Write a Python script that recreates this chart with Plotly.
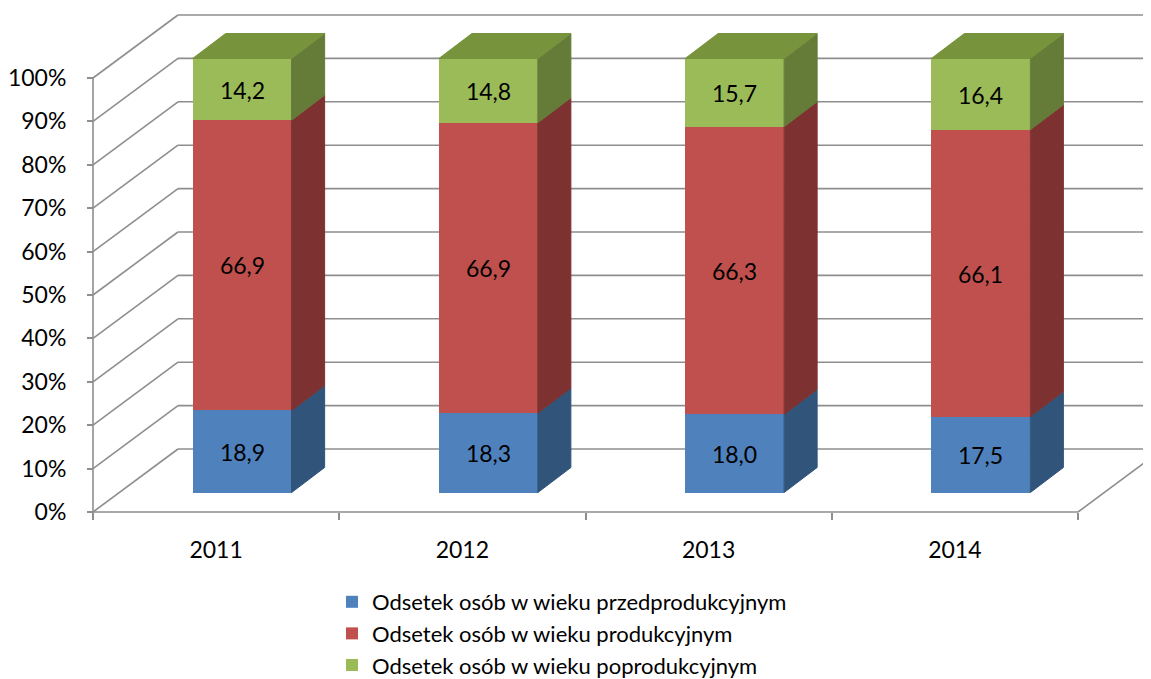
import plotly.graph_objects as go

years = ["2011", "2012", "2013", "2014"]
przed = [18.9, 18.3, 18.0, 17.5]
prod = [66.9, 66.9, 66.3, 66.1]
poprod = [14.2, 14.8, 15.7, 16.4]
names = ["Odsetek osób w wieku przedprodukcyjnym",
         "Odsetek osób w wieku produkcyjnym",
         "Odsetek osób w wieku poprodukcyjnym"]
y_ticks = list(range(0, 101, 10))
y_labels = [f"{v}%" for v in y_ticks]

series = [przed, prod, poprod]
front_col = ["#4F81BD", "#C0504D", "#9BBB59"]
side_col = ["#31547A", "#7D3231", "#657B38"]
top_col = "#77933C"
grid_col = "#8E8E8E"
FONT = "Lato"

# pixel geometry in page coords (page body has an 8px margin)
OFF = 8
PW, PH = 1151, 679
W, H = PW - OFF, PH - OFF
L, T, B = 90, 9, 514       # plot area left / top / bottom (page px)
X0PX, Y0PX = 93, 512       # front corner of the floor
CAT = 246.25               # px per category
PCT = 4.34                 # px per percent

xmin = -0.5 - (X0PX - L) / CAT
xmax = xmin + (PW - L) / CAT
ymin = -(B - Y0PX) / PCT
ymax = ymin + (B - T) / PCT

DX, DY = 85 / CAT, 63 / PCT      # depth of walls / floor
BX, BY = 26 / CAT, 19.5 / PCT    # offset of the bar front
BDX, BDY = 33 / CAT, 25 / PCT    # bar depth
BW = 99 / CAT                    # bar width

fig = go.Figure()

bases = [BY] * len(years)
side_traces = []
for s, vals in enumerate(series):
    xs = [i + BX for i in range(len(years))]
    fig.add_trace(go.Bar(
        x=xs, y=vals, base=list(bases), width=BW, name=names[s],
        marker=dict(color=front_col[s], line=dict(width=0)),
        text=[f"{v:.1f}".replace(".", ",") for v in vals],
        textposition="inside", insidetextanchor="middle", textangle=0,
        textfont=dict(size=23, color="black", family=FONT),
        hoverinfo="skip"))
    for i, v in enumerate(vals):
        xr = xs[i] + BW / 2
        b = bases[i]
        t = b + v
        side_traces.append(go.Scatter(
            x=[xr, xr + BDX, xr + BDX, xr, xr],
            y=[b, b + BDY, t + BDY, t, b],
            fill="toself", fillcolor=side_col[s], mode="lines",
            line=dict(color=side_col[s], width=1),
            showlegend=False, hoverinfo="skip"))
        if s == len(series) - 1:
            xl = xs[i] - BW / 2
            side_traces.append(go.Scatter(
                x=[xl, xl + BDX, xr + BDX, xr, xl],
                y=[t, t + BDY, t + BDY, t, t],
                fill="toself", fillcolor=top_col, mode="lines",
                line=dict(color=top_col, width=1),
                showlegend=False, hoverinfo="skip"))
    bases = [bases[i] + vals[i] for i in range(len(years))]

for tr in side_traces:
    fig.add_trace(tr)

# walls, floor and axis lines
shapes = []
def seg(x0, y0, x1, y1):
    shapes.append(dict(type="line", xref="x", yref="y", x0=x0, y0=y0, x1=x1, y1=y1,
                       line=dict(color=grid_col, width=1.6), layer="below"))

x_front = -0.5
x_end = len(years) - 0.5
for v in y_ticks:
    seg(x_front, v, x_front + DX, v + DY)
    seg(x_front + DX, v + DY, xmax + 1, v + DY)
seg(x_front, 0, x_end, 0)
seg(x_end, 0, x_end + DX, DY)
seg(x_front, 0, x_front, 100)

fig.update_layout(
    width=W, height=H,
    margin=dict(l=L - OFF, r=0, t=T - OFF, b=PH - B, autoexpand=False),
    plot_bgcolor="white", paper_bgcolor="white",
    barmode="overlay", bargap=0,
    shapes=shapes,
    font=dict(family=FONT, size=23, color="black"),
    xaxis=dict(range=[xmin, xmax], tickvals=list(range(len(years))), ticktext=years,
               ticks="", showgrid=False, zeroline=False, showline=False,
               anchor="free", position=(B - Y0PX) / (B - T),
               ticklabelstandoff=22, tickfont=dict(size=23),
               minor=dict(tickvals=[i - 0.5 for i in range(len(years) + 1)],
                          ticks="outside", ticklen=7, tickwidth=1.6, tickcolor=grid_col)),
    yaxis=dict(range=[ymin, ymax], tickvals=y_ticks, ticktext=y_labels,
               ticks="outside", ticklen=6, tickwidth=1.6, tickcolor=grid_col,
               showgrid=False, zeroline=False, showline=False,
               anchor="free", position=(X0PX - L) / (PW - L),
               ticklabelstandoff=16, tickfont=dict(size=23)),
    legend=dict(orientation="v", x=(332 - L) / (PW - L), y=-(581 - B) / (B - T),
                xanchor="left", yanchor="top", font=dict(size=22),
                traceorder="normal", tracegroupgap=0),
    showlegend=True,
)

fig.write_html("out.html")
